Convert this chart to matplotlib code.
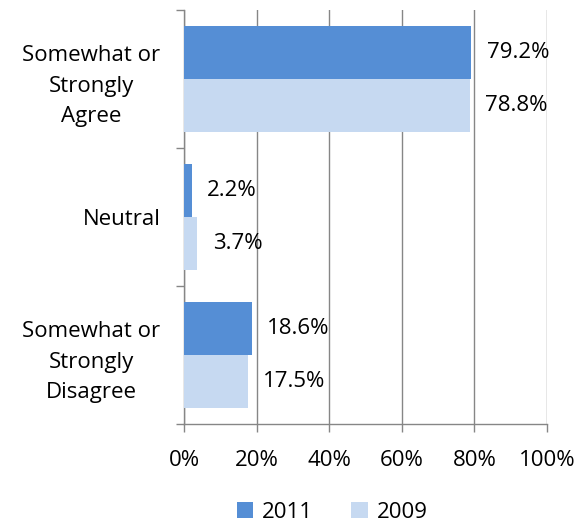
import numpy as np
import matplotlib
matplotlib.use("Agg")
import matplotlib.pyplot as plt
from matplotlib.ticker import PercentFormatter, FixedLocator

plt.rcParams['font.family'] = ['Open Sans', 'DejaVu Sans']

categories = ["Somewhat or\nStrongly\nAgree", "Neutral", "Somewhat or\nStrongly\nDisagree"]
vals_2011 = [79.2, 2.2, 18.6]
vals_2009 = [78.8, 3.7, 17.5]
series_names = ["2011", "2009"]
x_ticks = [0, 20, 40, 60, 80, 100]

c2011 = "#558ED5"
c2009 = "#C6D9F1"
grid_c = "#868686"
fs = 16

fig = plt.figure(figsize=(5.8, 5.27), dpi=100)
ax = fig.add_axes([184/580, 1-424/527, 363/580, 414/527])

y = np.arange(len(categories))
h = 0.384
b1 = ax.barh(y - h/2, vals_2011, height=h, color=c2011, label=series_names[0], zorder=3)
b2 = ax.barh(y + h/2, vals_2009, height=h, color=c2009, label=series_names[1], zorder=3)

for bars, vals in ((b1, vals_2011), (b2, vals_2009)):
    for r, v in zip(bars, vals):
        ax.annotate(f"{v:.1f}%", (r.get_width(), r.get_y() + r.get_height()/2),
                    xytext=(11, 0), textcoords="offset points",
                    ha="left", va="center", fontsize=fs, color="black")

ax.set_xlim(0, 100)
ax.set_ylim(len(categories) - 0.5, -0.5)
ax.set_xticks(x_ticks)
ax.xaxis.set_major_formatter(PercentFormatter(100, decimals=0))
ax.grid(axis="x", color=grid_c, linewidth=1, zorder=0)

ax.set_yticks(y)
ax.set_yticklabels(categories, multialignment="center", linespacing=1.6)
ax.yaxis.set_minor_locator(FixedLocator(np.arange(-0.5, len(categories), 1)))
ax.tick_params(axis="y", which="major", length=0, pad=17, labelsize=fs)
ax.tick_params(axis="y", which="minor", length=6, color=grid_c, width=1)
ax.tick_params(axis="x", length=6, color=grid_c, width=1, labelsize=fs, pad=13)

for s in ("top", "right"):
    ax.spines[s].set_visible(False)
for s in ("left", "bottom"):
    ax.spines[s].set_color(grid_c)
    ax.spines[s].set_linewidth(1)

fig.legend(loc="center", bbox_to_anchor=(332/580, 1-512/527), ncol=2, frameon=False,
           fontsize=fs, handlelength=0.75, handleheight=0.75, columnspacing=1.7, handletextpad=0.4)

fig.savefig("out.png", dpi=100)
